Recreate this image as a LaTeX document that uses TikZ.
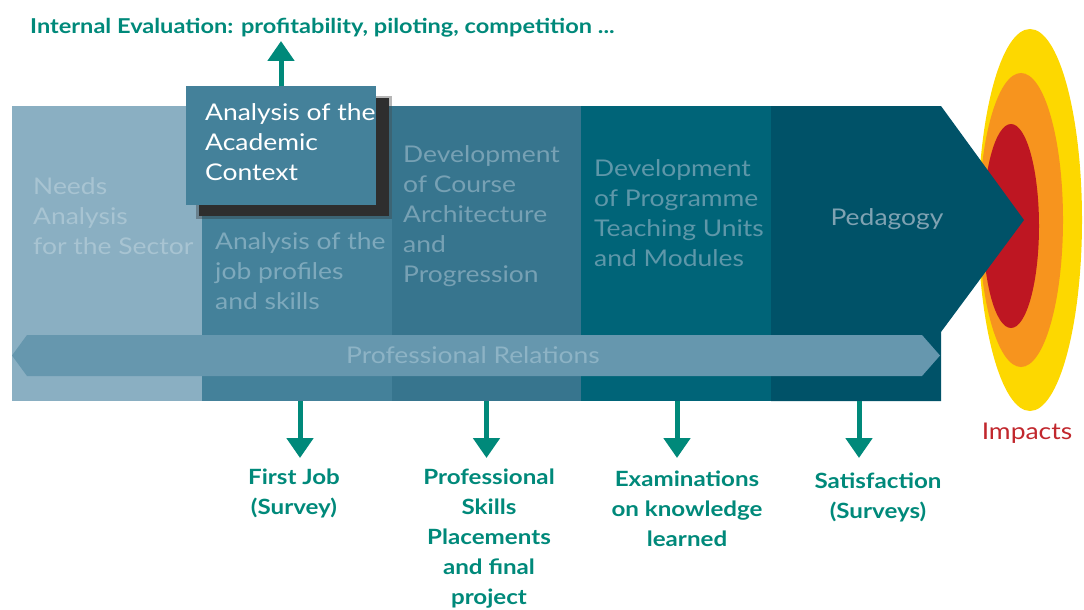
\documentclass[tikz,border=0pt]{standalone}
\usepackage{fontspec}
\setmainfont{Lato}[FakeStretch=1.15]
\usetikzlibrary{arrows.meta}

\definecolor{stageA}{HTML}{8AAFC2}
\definecolor{stageB}{HTML}{44819A}
\definecolor{stageC}{HTML}{37758E}
\definecolor{stageD}{HTML}{006478}
\definecolor{stageE}{HTML}{005268}
\definecolor{txtA}{HTML}{A8C4D2}
\definecolor{txtB}{HTML}{7EA9BC}
\definecolor{txtC}{HTML}{77A1B4}
\definecolor{txtD}{HTML}{5E97A9}
\definecolor{txtE}{HTML}{7FA2B2}
\definecolor{band}{HTML}{6697AE}
\definecolor{bandtxt}{HTML}{8DB3C5}
\definecolor{teal}{HTML}{00897A}
\definecolor{shadowgray}{HTML}{2E2E2E}
\definecolor{impYellow}{HTML}{FDD800}
\definecolor{impOrange}{HTML}{F7941E}
\definecolor{impRed}{HTML}{BE1622}
\definecolor{impText}{HTML}{C1272D}

\begin{document}
\begin{tikzpicture}[x=1pt,y=-1pt,
  stagebox/.style={inner sep=0pt, outer sep=0pt, anchor=north west,
    minimum height=295pt},
  stagetext/.style={inner sep=0pt, anchor=north west, align=left,
    font=\fontsize{23}{30}\selectfont},
  measure/.style={inner sep=0pt, anchor=north, align=center, text=teal,
    font=\bfseries\fontsize{21}{30}\selectfont},
  flow/.style={teal, line width=5pt,
    -{Triangle[width=26pt,length=20pt]}}
]
\useasboundingbox (0,0) rectangle (1084,610);

% impact rings behind the pedagogy arrow
\fill[impYellow] (1030,220) ellipse [x radius=52, y radius=191];
\fill[impOrange] (1021,220) ellipse [x radius=42, y radius=147];
\fill[impRed]    (1011,226) ellipse [x radius=28, y radius=102];
\node[inner sep=0pt, text=impText, font=\fontsize{23}{28}\selectfont]
  (impacts) at (1027,433) {Impacts};

% process stages
\node[stagebox, fill=stageA, minimum width=190pt] (needs)  at (12,106) {};
\node[stagebox, fill=stageB, minimum width=190pt] (jobs)   at (202,106) {};
\node[stagebox, fill=stageC, minimum width=189pt] (course) at (392,106) {};
\node[stagebox, fill=stageD, minimum width=190pt] (units)  at (581,106) {};
\fill[stageE] (771,106) -- (941,106) -- (1024,220) -- (941,332)
  -- (941,401) -- (771,401) -- cycle;
\coordinate (pedfoot) at (859,401);

\node[stagetext, text=txtA] (needsT) at (33,177)
  {Needs\\Analysis\\for the Sector};
\node[stagetext, text=txtB] (jobsT) at (215,232)
  {Analysis of the\\job profiles\\and skills};
\node[stagetext, text=txtC] (courseT) at (403,145)
  {Development\\of Course\\Architecture\\and\\Progression};
\node[stagetext, text=txtD] (unitsT) at (594,159)
  {Development\\of Programme\\Teaching Units\\and Modules};
\node[inner sep=0pt, text=txtE, font=\fontsize{23}{30}\selectfont]
  (pedT) at (887,219) {Pedagogy};

% professional relations band
\fill[band] (12,355.5) -- (27,335) -- (922,335) -- (940,355.5)
  -- (922,376) -- (27,376) -- cycle;
\node[inner sep=0pt, text=bandtxt, font=\fontsize{23}{30}\selectfont]
  (relations) at (473,355) {Professional Relations};

% academic context card with its shadow
\fill[shadowgray, opacity=0.35] (196,96) rectangle (392,219);
\fill[shadowgray] (199,98) rectangle (389,216);
\node[inner sep=0pt, outer sep=0pt, anchor=north west, fill=stageB,
  minimum width=190pt, minimum height=119pt] (acad) at (186,86) {};
\node[stagetext, text=white] (acadT) at (205,103)
  {Analysis of the\\Academic\\Context};

% internal evaluation
\node[inner sep=0pt, anchor=north west, text=teal,
  font=\bfseries\fontsize{20.5}{24}\selectfont] (evalT) at (30,18)
  {Internal Evaluation: profitability, piloting, competition ...};
\coordinate (evalTip) at (281,41);
\draw[flow] (acad.north) -- (evalTip);

% measurements under the stages
\node[measure] (firstjob) at (294,469) {First Job\\(Survey)};
\node[measure] (skills) at (489,469)
  {Professional\\Skills\\Placements\\and final\\project};
\node[measure] (exams) at (687,471)
  {Examinations\\on knowledge\\learned};
\node[measure] (satis) at (878,473) {Satisfaction\\(Surveys)};

\draw[flow] ([xshift=3pt]jobs.south) -- ([xshift=3pt]jobs.south |- 0,458);
\draw[flow] (course.south) -- (course.south |- 0,458);
\draw[flow] ([xshift=1pt]units.south) -- ([xshift=1pt]units.south |- 0,458);
\draw[flow] (pedfoot) -- (pedfoot |- 0,458);
\end{tikzpicture}
\end{document}
